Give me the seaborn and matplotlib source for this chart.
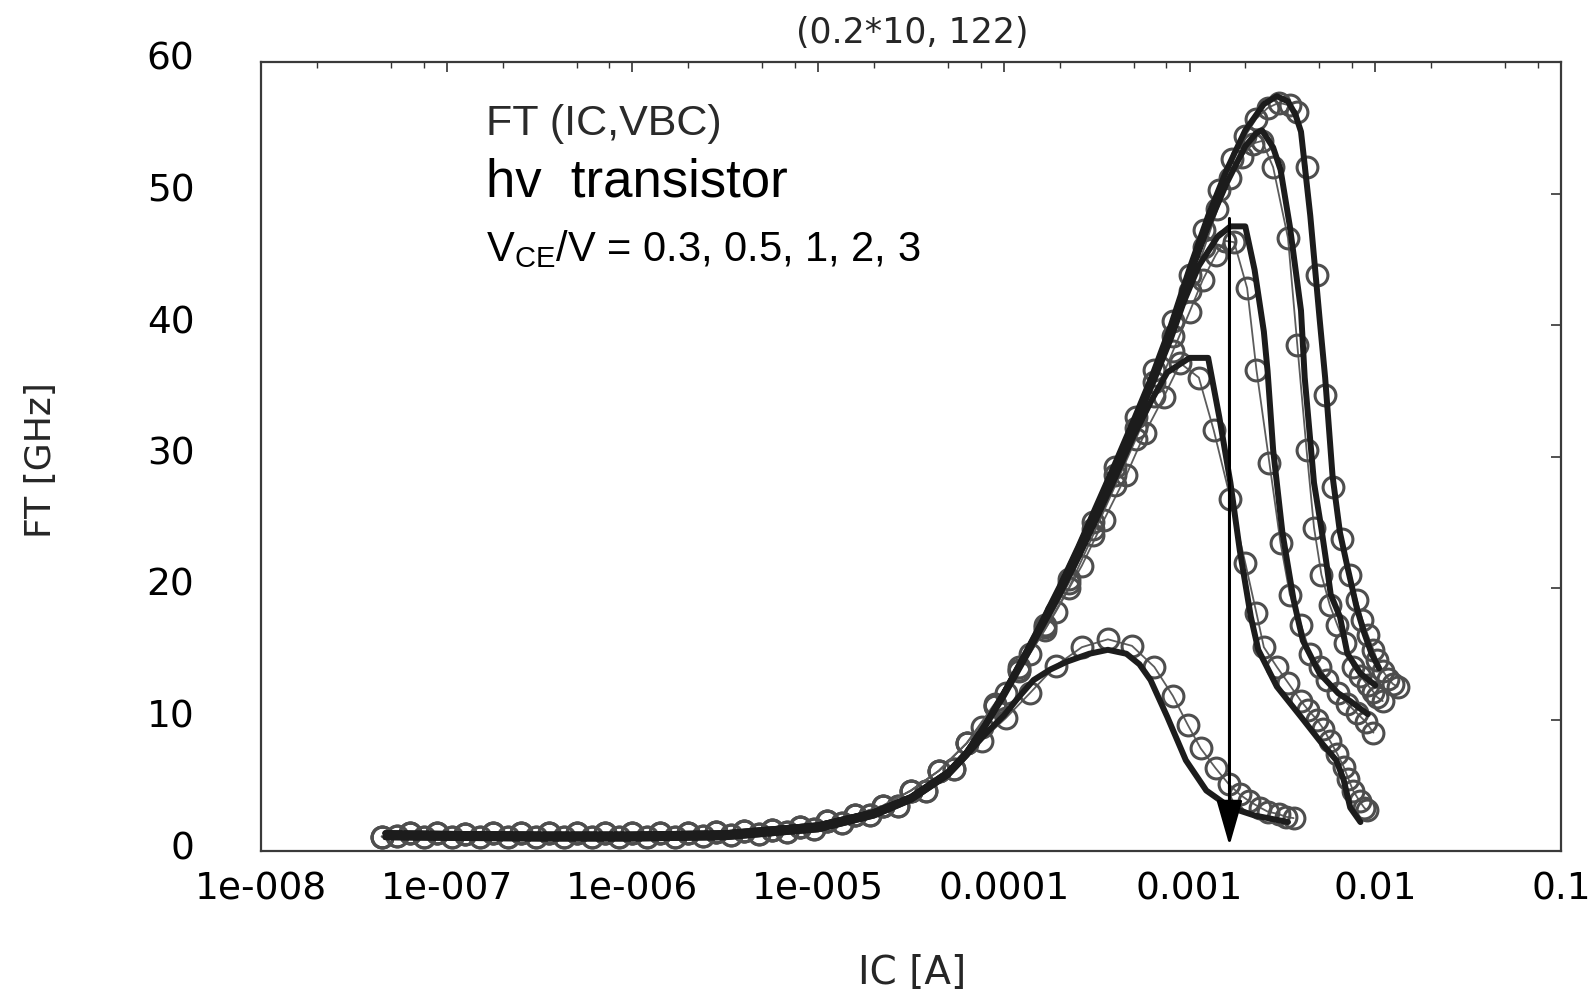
import numpy as np
import pandas as pd
import matplotlib
matplotlib.use("Agg")
import matplotlib.pyplot as plt
import seaborn as sns
from matplotlib.ticker import FixedLocator, FixedFormatter, LogLocator, NullFormatter
from matplotlib.transforms import ScaledTranslation

# ---------------- data (log10 of IC in A, FT in GHz) ----------------
vce_values = ["0.3", "0.5", "1", "2", "3"]
low_group = {"0.3": "b", "0.5": "b", "1": "a", "2": "a", "3": "a"}

# simulation: low-current part (curves nearly coincide)
sim_low_log = [-7.33, -7.0, -6.5, -6.0, -5.5, -5.0, -4.7, -4.5, -4.3, -4.2]
sim_low_ft_a = [1.35, 1.3, 1.25, 1.25, 1.35, 1.95, 2.95, 4.1, 6.0, 7.5]
sim_low_ft_b = [1.05, 1.0, 0.95, 0.95, 1.05, 1.65, 2.7, 3.9, 5.8, 7.3]

sim_log_03 = [-4.1, -4.0, -3.92, -3.84, -3.75, -3.66, -3.54, -3.44, -3.34, -3.27, -3.21, -3.12,
              -3.02, -2.91, -2.78, -2.65, -2.47]
sim_ft_03 = [8.9, 10.3, 11.7, 13.0, 13.8, 14.4, 15.0, 15.3, 15.0, 14.2, 13.0, 10.2,
             6.9, 4.6, 3.3, 2.7, 2.2]

sim_log_05 = [-4.1, -4.0, -3.9, -3.8, -3.7, -3.6, -3.5, -3.4, -3.3, -3.2, -3.12, -3.0, -2.9,
              -2.84, -2.78, -2.73, -2.67, -2.63, -2.53, -2.40, -2.30, -2.21, -2.17, -2.135, -2.08]
sim_ft_05 = [9.5, 11.8, 14.3, 16.9, 19.5, 22.3, 25.3, 28.4, 31.6, 34.4, 36.4, 37.5, 37.5,
             33.0, 28.0, 22.9, 17.8, 15.3, 12.5, 10.2, 8.4, 6.9, 5.4, 3.3, 2.2]

sim_log_1 = [-4.1, -4.0, -3.9, -3.8, -3.7, -3.6, -3.5, -3.4, -3.3, -3.2, -3.1, -3.03, -2.95,
             -2.85, -2.78, -2.70, -2.65, -2.60, -2.58, -2.55, -2.50, -2.44, -2.39, -2.30,
             -2.20, -2.135, -2.04]
sim_ft_1 = [9.6, 12.0, 14.5, 17.1, 19.8, 22.8, 25.8, 29.0, 32.2, 35.5, 39.0, 41.8, 44.5,
            46.7, 47.5, 47.5, 44.2, 39.5, 36.5, 30.5, 24.2, 19.1, 16.0, 13.5,
            12.0, 11.4, 10.4]

sim_log_2 = [-4.1, -4.0, -3.9, -3.8, -3.7, -3.6, -3.5, -3.4, -3.3, -3.2, -3.1, -3.0, -2.9,
             -2.8, -2.7, -2.64, -2.61, -2.55, -2.51, -2.46, -2.40, -2.38, -2.33, -2.29,
             -2.26, -2.24, -2.19, -2.15, -2.08, -2.00]
sim_ft_2 = [9.6, 12.0, 14.6, 17.2, 20.0, 23.0, 26.1, 29.3, 32.5, 35.9, 39.6, 43.7, 47.5,
            50.8, 53.6, 54.6, 54.8, 53.5, 51.8, 47.5, 41.1, 36.0, 28.0, 24.5,
            21.6, 19.5, 17.8, 15.0, 13.5, 12.6]

sim_log_3 = [-4.1, -4.0, -3.9, -3.8, -3.7, -3.6, -3.5, -3.4, -3.3, -3.2, -3.1, -3.0, -2.9,
             -2.8, -2.7, -2.6, -2.53, -2.47, -2.43, -2.40, -2.35, -2.30, -2.27, -2.23,
             -2.19, -2.15, -2.10, -2.06, -2.02, -1.98]
sim_ft_3 = [9.6, 12.0, 14.6, 17.3, 20.1, 23.1, 26.3, 29.5, 32.8, 36.2, 40.0, 44.3, 48.3,
            51.8, 54.8, 56.8, 57.4, 57.0, 56.0, 54.7, 48.3, 40.5, 36.0, 28.5,
            24.2, 21.6, 18.5, 16.6, 15.0, 13.9]

# measurement: low-current parts (two interleaved sets of points)
meas_low_log_a = [-7.35, -7.2, -7.05, -6.9, -6.75, -6.6, -6.45, -6.3, -6.15, -6.0, -5.85, -5.7,
                  -5.55, -5.4, -5.25, -5.1, -4.95, -4.8, -4.65, -4.5, -4.35, -4.2]
meas_low_ft_a = [1.1, 1.35, 1.35, 1.3, 1.35, 1.35, 1.35, 1.35, 1.35, 1.35, 1.35, 1.4,
                 1.45, 1.55, 1.6, 1.85, 2.25, 2.75, 3.45, 4.6, 6.1, 8.2]
meas_low_log_b = [-7.27, -7.12, -6.97, -6.82, -6.67, -6.52, -6.37, -6.22, -6.07, -5.92, -5.77,
                  -5.62, -5.47, -5.32, -5.17, -5.02, -4.87, -4.72, -4.57, -4.42, -4.27]
meas_low_ft_b = [1.15, 1.05, 1.1, 1.05, 1.05, 1.05, 1.05, 1.05, 1.05, 1.1, 1.1,
                 1.15, 1.2, 1.3, 1.45, 1.7, 2.1, 2.7, 3.4, 4.6, 6.2]

meas_log_03 = [-4.12, -3.99, -3.86, -3.72, -3.58, -3.44, -3.31, -3.19, -3.09, -3.01, -2.94,
               -2.86, -2.79, -2.73, -2.68, -2.62, -2.58, -2.52, -2.48, -2.44]
meas_ft_03 = [8.4, 10.1, 12.0, 14.1, 15.5, 16.1, 15.6, 14.0, 11.8, 9.6, 7.8,
              6.3, 5.1, 4.3, 3.8, 3.3, 3.0, 2.8, 2.6, 2.5]

meas_log_05 = [-4.12, -3.99, -3.86, -3.72, -3.58, -3.46, -3.34, -3.24, -3.14, -3.05, -2.95,
               -2.87, -2.78, -2.70, -2.64, -2.60, -2.53, -2.47, -2.40, -2.36, -2.315, -2.28,
               -2.245, -2.205, -2.17, -2.145, -2.12, -2.085, -2.06, -2.045]
meas_ft_05 = [9.4, 12.0, 15.0, 18.2, 21.7, 25.2, 28.6, 31.8, 34.5, 37.1, 36.0,
              32.0, 26.8, 21.9, 18.1, 15.5, 14.0, 12.8, 11.4, 10.7, 10.0, 9.3,
              8.4, 7.4, 6.4, 5.5, 4.6, 3.8, 3.3, 3.1]

meas_log_1 = [-4.05, -3.92, -3.78, -3.65, -3.52, -3.40, -3.29, -3.19, -3.09, -3.00, -2.93,
              -2.86, -2.81, -2.76, -2.69, -2.64, -2.57, -2.51, -2.46, -2.40, -2.35, -2.30,
              -2.26, -2.20, -2.15, -2.10, -2.05, -2.01]
meas_ft_1 = [11.0, 13.7, 16.8, 20.0, 24.0, 27.8, 31.3, 34.6, 38.0, 41.0, 43.4,
             45.3, 46.4, 46.3, 42.8, 36.6, 29.5, 23.4, 19.5, 17.2, 15.0, 14.0,
             13.0, 12.0, 11.2, 10.5, 9.8, 9.0]

meas_log_2 = [-4.05, -3.92, -3.78, -3.65, -3.52, -3.40, -3.29, -3.19, -3.09, -3.00, -2.92,
              -2.85, -2.78, -2.72, -2.66, -2.61, -2.55, -2.47, -2.42, -2.37, -2.33, -2.29,
              -2.245, -2.205, -2.165, -2.12, -2.08, -2.04, -2.01, -1.99, -1.96]
meas_ft_2 = [11.0, 13.8, 17.0, 20.4, 24.5, 28.6, 32.2, 35.7, 39.2, 42.6, 45.9,
             48.8, 51.2, 52.8, 53.8, 54.0, 52.0, 46.6, 38.5, 30.5, 24.6, 21.0,
             18.7, 17.2, 15.8, 14.0, 13.3, 12.6, 12.1, 11.7, 11.4]

meas_log_3 = [-4.05, -3.92, -3.78, -3.65, -3.52, -3.40, -3.29, -3.19, -3.09, -3.00, -2.92,
              -2.84, -2.77, -2.70, -2.64, -2.58, -2.52, -2.46, -2.42, -2.37, -2.315, -2.27,
              -2.23, -2.18, -2.135, -2.10, -2.07, -2.04, -2.01, -1.99, -1.96, -1.93, -1.905, -1.88]
meas_ft_3 = [11.2, 14.0, 17.2, 20.7, 25.0, 29.2, 33.0, 36.6, 40.3, 43.8, 47.2,
             50.3, 52.6, 54.4, 55.7, 56.5, 56.9, 56.7, 56.2, 52.0, 43.8, 34.7,
             27.7, 23.7, 21.0, 19.1, 17.6, 16.4, 15.3, 14.5, 13.7, 13.1, 12.7, 12.5]

x_tick_vals = [1e-8, 1e-7, 1e-6, 1e-5, 1e-4, 1e-3, 1e-2, 1e-1]
x_tick_labels = ["1e-008", "1e-007", "1e-006", "1e-005", "0.0001", "0.001", "0.01", "0.1"]
y_tick_vals = [0, 10, 20, 30, 40, 50, 60]

arrow_ic = 1.64e-3
arrow_ft_start = 48.1
arrow_ft_end = 0.4

# ---------------- build tables ----------------
sim_hi = {"0.3": (sim_log_03, sim_ft_03), "0.5": (sim_log_05, sim_ft_05),
          "1": (sim_log_1, sim_ft_1), "2": (sim_log_2, sim_ft_2), "3": (sim_log_3, sim_ft_3)}
meas_hi = {"0.3": (meas_log_03, meas_ft_03), "0.5": (meas_log_05, meas_ft_05),
           "1": (meas_log_1, meas_ft_1), "2": (meas_log_2, meas_ft_2), "3": (meas_log_3, meas_ft_3)}
sim_low = {"a": sim_low_ft_a, "b": sim_low_ft_b}
meas_low = {"a": (meas_low_log_a, meas_low_ft_a), "b": (meas_low_log_b, meas_low_ft_b)}

sim_frames, meas_frames = [], []
for v in vce_values:
    g = low_group[v]
    lg = sim_low_log + sim_hi[v][0]
    ft = sim_low[g] + sim_hi[v][1]
    sim_frames.append(pd.DataFrame({"IC": 10.0 ** np.array(lg), "FT": ft, "VCE": v}))
    lg = meas_low[g][0] + meas_hi[v][0]
    ft = meas_low[g][1] + meas_hi[v][1]
    meas_frames.append(pd.DataFrame({"IC": 10.0 ** np.array(lg), "FT": ft, "VCE": v}))
sim_df = pd.concat(sim_frames, ignore_index=True)
meas_df = pd.concat(meas_frames, ignore_index=True)

# ---------------- plot ----------------
sns.set_theme(style="white")
plt.rcParams["font.family"] = ["DejaVu Sans"]

fig = plt.figure(figsize=(15.94, 9.92), dpi=100)
ax = fig.add_axes([261 / 1594, 1 - 851 / 992, 1300 / 1594, 789 / 992])
ax.set_xscale("log")

for v in vce_values:
    d = meas_df[meas_df["VCE"] == v]
    sns.lineplot(data=d, x="IC", y="FT", ax=ax, estimator=None, sort=False,
                 color="#5c5c5c", lw=1.3, marker="o", ms=15, mfc="none",
                 mec="#4e4e4e", mew=2.2, zorder=2, legend=False)
for v in vce_values:
    d = sim_df[sim_df["VCE"] == v]
    sns.lineplot(data=d, x="IC", y="FT", ax=ax, estimator=None, sort=False,
                 color="#1c1c1c", lw=4.3, zorder=3, legend=False)

ax.annotate("", xy=(arrow_ic, arrow_ft_end), xytext=(arrow_ic, arrow_ft_start),
            arrowprops=dict(arrowstyle="-|>,head_length=1.4,head_width=0.4",
                            mutation_scale=20, color="black", lw=2.2,
                            shrinkA=0, shrinkB=0), zorder=4)

ax.set_xlim(1e-8, 1e-1)
ax.set_ylim(0, 60)
ax.xaxis.set_major_locator(FixedLocator(x_tick_vals))
ax.xaxis.set_major_formatter(FixedFormatter(x_tick_labels))
ax.xaxis.set_minor_locator(LogLocator(base=10, subs=(2.0, 5.0, 7.5), numticks=30))
ax.xaxis.set_minor_formatter(NullFormatter())
ax.yaxis.set_major_locator(FixedLocator(y_tick_vals))
ax.set_xlabel("")
ax.set_ylabel("")

ax.tick_params(which="both", direction="in", top=True, right=True, colors="#333333")
ax.tick_params(which="major", length=7, width=1.2)
ax.tick_params(which="minor", length=4, width=1.0)
ax.tick_params(axis="x", which="major", labelsize=27, pad=15, labelcolor="black")
ax.tick_params(axis="y", which="major", labelsize=27, pad=48, labelcolor="black")
for s in ax.spines.values():
    s.set_color("#3a3a3a")
    s.set_linewidth(1.6)

up = ScaledTranslation(0, 6 / 100, fig.dpi_scale_trans)
for lab in ax.get_yticklabels():
    lab.set_transform(lab.get_transform() + up)

fig.text(912 / 1594, 1 - 33 / 992, "(0.2*10, 122)", ha="center", va="center", fontsize=25)
fig.text(912 / 1594, 1 - 973 / 992, "IC [A]", ha="center", va="center", fontsize=28)
fig.text(41 / 1594, 1 - 460 / 992, "FT [GHz]", ha="center", va="center",
         rotation=90, fontsize=26)

ax.text(0.173, 0.921, "FT (IC,VBC)", transform=ax.transAxes, ha="left", va="center",
        fontsize=31, family=["Liberation Sans", "DejaVu Sans"], color="#2a2a2a")
ax.text(0.173, 0.847, "hv  transistor", transform=ax.transAxes, ha="left", va="center",
        fontsize=38, family=["Liberation Sans", "DejaVu Sans"], color="black")
ax.text(0.173, 0.763, r"V$_{\mathregular{CE}}$/V = 0.3, 0.5, 1, 2, 3", transform=ax.transAxes,
        ha="left", va="center", fontsize=30, family=["Liberation Sans", "DejaVu Sans"],
        color="black")

fig.savefig("out.png", dpi=100)
